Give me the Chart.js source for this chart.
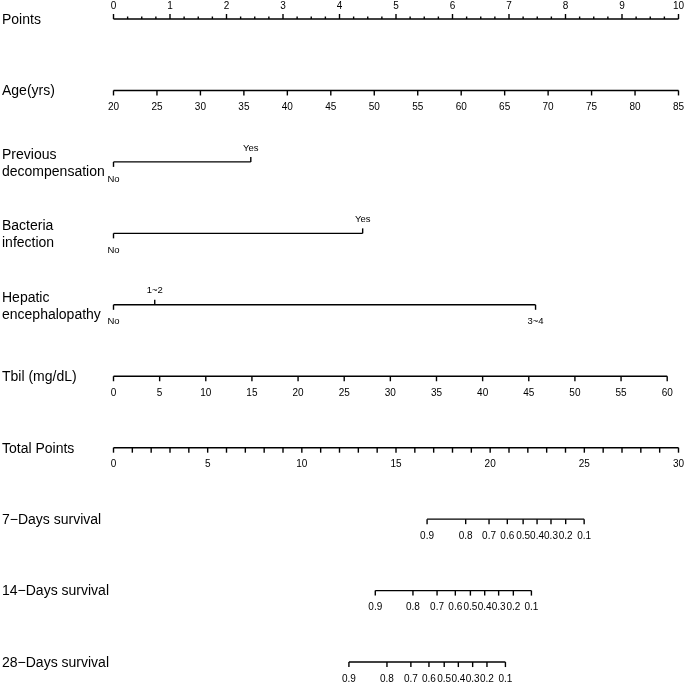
<!DOCTYPE html>
<html><head><meta charset="utf-8">
<script src="https://cdn.jsdelivr.net/npm/chart.js@4"></script>
<style>html,body{margin:0;padding:0;background:#fff;}#wrap{width:685px;height:683px;}</style>
</head><body><div id="wrap"><canvas id="c" width="685" height="683"></canvas></div>
<script>
// ---------- data ----------
const pointsTicks = [0,1,2,3,4,5,6,7,8,9,10];
const pointsMinor = [0.25,0.5,0.75,1.25,1.5,1.75,2.25,2.5,2.75,3.25,3.5,3.75,4.25,4.5,4.75,5.25,5.5,5.75,6.25,6.5,6.75,7.25,7.5,7.75,8.25,8.5,8.75,9.25,9.5,9.75];
const ageTicks = [20,25,30,35,40,45,50,55,60,65,70,75,80,85];
const ageRange = [20,85];              // age mapped onto 0..10 points
const prevLevels = ['No','Yes'];
const prevPoints = [0, 2.43];
const bactLevels = ['No','Yes'];
const bactPoints = [0, 4.41];
const heLevels = ['No','1~2','3~4'];
const hePoints = [0, 0.73, 7.47];
const tbilTicks = [0,5,10,15,20,25,30,35,40,45,50,55,60];
const tbilPointsAt60 = 9.80;
const totalTicks = [0,1,2,3,4,5,6,7,8,9,10,11,12,13,14,15,16,17,18,19,20,21,22,23,24,25,26,27,28,29,30];
const totalLabels = [0,5,10,15,20,25,30];
const totalMax = 30;
const survProbs = ['0.9','0.8','0.7','0.6','0.5','0.4','0.3','0.2','0.1'];
const surv7  = [16.65,18.70,19.94,20.91,21.75,22.49,23.23,24.01,24.99];
const surv14 = [13.90,15.90,17.18,18.15,18.95,19.71,20.45,21.23,22.19];
const surv28 = [12.50,14.52,15.79,16.75,17.56,18.31,19.07,19.83,20.81];
const rowTitles = [['Points'],['Age(yrs)'],['Previous','decompensation'],['Bacteria','infection'],['Hepatic','encephalopathy'],['Tbil (mg/dL)'],['Total Points'],['7\u2212Days survival'],['14\u2212Days survival'],['28\u2212Days survival']];

// ---------- layout ----------
const ROW0 = 19, ROWGAP = 71.45;
const rowY = i => ROW0 + i*ROWGAP;
const TITLE_FONT = '14px "Liberation Sans", Arial, sans-serif';
const TICK_FONT = '10px "Liberation Sans", Arial, sans-serif';
const CAT_FONT = '9.5px "Liberation Sans", Arial, sans-serif';

const ageToPts = a => (a-ageRange[0])/(ageRange[1]-ageRange[0])*10;
const tbilToPts = t => t/60*tbilPointsAt60;
const totToPts = t => t/totalMax*10;

const rows = [];
rows.push({ticks: pointsTicks.map(v=>({v, len:5, dir:-1, label:String(v), lpos:-1, font:TICK_FONT}))
  .concat(pointsMinor.map(v=>({v, len:2.5, dir:-1})))});
rows.push({ticks: ageTicks.map(a=>({v:ageToPts(a), len:5, dir:1, label:String(a), lpos:1, font:TICK_FONT}))});
rows.push({ticks: prevLevels.map((l,i)=>({v:prevPoints[i], len:5, dir:i===0?1:-1, label:l, lpos:i===0?1:-1, font:CAT_FONT}))});
rows.push({ticks: bactLevels.map((l,i)=>({v:bactPoints[i], len:5, dir:i===0?1:-1, label:l, lpos:i===0?1:-1, font:CAT_FONT}))});
rows.push({ticks: heLevels.map((l,i)=>({v:hePoints[i], len:5, dir:i===1?-1:1, label:l, lpos:i===1?-1:1, font:CAT_FONT}))});
rows.push({ticks: tbilTicks.map(t=>({v:tbilToPts(t), len:5, dir:1, label:String(t), lpos:1, font:TICK_FONT}))});
rows.push({ticks: totalTicks.map(t=>({v:totToPts(t), len:5, dir:1, label: totalLabels.includes(t)?String(t):null, lpos:1, font:TICK_FONT}))});
[surv7, surv14, surv28].forEach(s=>{
  rows.push({ticks: s.map((t,i)=>({v:totToPts(t), len:5, dir:1, label:survProbs[i], lpos:1, font:TICK_FONT}))});
});

const LW = 1.4;
const datasets = rows.map((r,i)=>{
  const vs = r.ticks.map(t=>t.v);
  return {data:[{x:Math.min(...vs), y:rowY(i)},{x:Math.max(...vs), y:rowY(i)}],
    borderColor:'#000', borderWidth:LW, pointRadius:0, fill:false, tension:0};
});

const PX_PER_PT = 56.5, X0 = 113.5;
const nomoPlugin = {
  id:'nomo',
  afterDatasetsDraw(chart){
    const ctx = chart.ctx, xs = chart.scales.x, ys = chart.scales.y;
    ctx.save();
    ctx.strokeStyle = '#000'; ctx.fillStyle = '#000'; ctx.lineWidth = LW;
    rows.forEach((r,i)=>{
      const y = ys.getPixelForValue(rowY(i));
      r.ticks.forEach(t=>{
        const x = xs.getPixelForValue(t.v);
        ctx.beginPath(); ctx.moveTo(x, y); ctx.lineTo(x, y + t.dir*t.len); ctx.stroke();
        if (t.label){
          ctx.font = t.font; ctx.textAlign='center'; ctx.textBaseline='middle';
          const off = t.lpos<0 ? (t.font===CAT_FONT?-14:-13) : 17;
          ctx.fillText(t.label, x, y + off);
        }
      });
      ctx.font = TITLE_FONT; ctx.textAlign='left'; ctx.textBaseline='middle';
      const tl = rowTitles[i];
      if (tl.length===1) ctx.fillText(tl[0], 2, y+1);
      else { ctx.fillText(tl[0], 2, y-7); ctx.fillText(tl[1], 2, y+10); }
    });
    ctx.restore();
  }
};

new Chart(document.getElementById('c'), {
  type:'line',
  data:{datasets},
  options:{
    responsive:false, animation:false, devicePixelRatio:1,
    layout:{padding:0},
    plugins:{legend:{display:false}, tooltip:{enabled:false}},
    scales:{
      x:{type:'linear', display:false, min:-X0/PX_PER_PT, max:(685-X0)/PX_PER_PT},
      y:{type:'linear', display:false, min:0, max:683, reverse:true}
    }
  },
  plugins:[nomoPlugin]
});
</script></body></html>
